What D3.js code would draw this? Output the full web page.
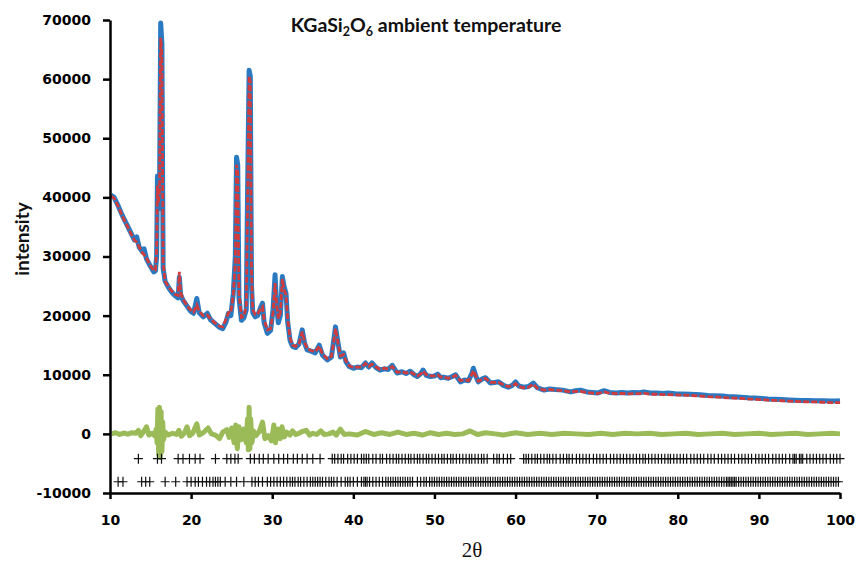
<!DOCTYPE html>
<html>
<head>
<meta charset="utf-8">
<script src="https://cdn.jsdelivr.net/npm/d3@7"></script>
<style>
  body { margin: 0; background: #fff; }
  svg { display: block; }
  .axis path, .axis line { stroke: #000; stroke-width: 2.5; }
  .axis text { font-family: "DejaVu Sans", sans-serif; font-weight: bold; font-size: 14px; fill: #000; }
</style>
</head>
<body>
<div id="chart"></div>
<script>
// 2theta positions with observed / calculated intensities
let tth = [10.1, 10.5, 11.0, 11.5, 12.0, 12.5, 13.0, 13.3, 13.6, 14.0, 14.2, 14.5, 15.0, 15.4, 15.6, 15.75, 15.85, 15.95, 16.1, 16.25, 16.4, 16.55, 16.8, 17.2, 17.6, 18.0, 18.4, 18.55, 18.7, 19.0, 19.5, 19.9, 20.3, 20.7, 21.0, 21.5, 22.0, 22.4, 23.0, 23.5, 23.9, 24.3, 24.6, 24.9, 25.2, 25.45, 25.6, 25.75, 25.9, 26.2, 26.5, 26.8, 26.95, 27.15, 27.3, 27.45, 27.6, 27.9, 28.2, 28.6, 28.8, 29.0, 29.4, 29.8, 30.1, 30.35, 30.55, 30.75, 31.0, 31.25, 31.45, 31.7, 31.9, 32.2, 32.5, 32.9, 33.3, 33.7, 34.0, 34.3, 34.8, 35.3, 35.8, 36.2, 36.8, 37.3, 37.6, 37.8, 38.1, 38.4, 38.8, 39.1, 39.5, 40.0, 40.5, 41.0, 41.5, 41.9, 42.3, 42.8, 43.3, 43.8, 44.3, 44.8, 45.4, 46.0, 46.5, 47.0, 47.5, 47.9, 48.3, 48.6, 49.0, 49.5, 50.0, 50.4, 50.8, 51.1, 51.7, 52.2, 52.6, 53.2, 53.7, 54.2, 54.6, 54.8, 55.1, 55.4, 55.9, 56.3, 56.9, 57.4, 57.9, 58.5, 59.1, 59.6, 60.0, 60.4, 61.0, 61.6, 62.2, 62.7, 63.5, 64.2, 64.9, 65.8, 66.8, 67.4, 68.0, 68.8, 69.5, 70.1, 70.9, 71.6, 72.4, 73.1, 73.8, 74.5, 75.3, 75.8, 76.6, 77.4, 78.2, 78.8, 79.7, 80.6, 81.5, 82.2, 82.8, 83.7, 84.6, 85.5, 86.3, 86.9, 87.8, 88.7, 89.5, 90.4, 91.1, 92.0, 92.8, 93.7, 94.5, 95.2, 96.1, 97.0, 97.9, 98.8, 99.5, 100.0];

let obs = [40400, 40000, 38600, 37000, 35600, 34200, 32800, 33300, 31600, 30800, 31300, 29600, 28300, 27400, 27600, 30000, 43600, 38000, 40000, 69500, 66000, 28000, 25800, 24800, 24000, 23400, 23000, 26500, 23600, 22600, 21600, 20800, 20400, 22900, 20500, 19800, 20400, 19300, 18600, 18000, 17800, 18900, 20400, 20000, 23800, 30000, 46800, 45500, 23000, 19200, 19600, 21000, 40000, 61500, 60500, 25000, 20500, 19800, 20000, 21500, 22100, 18800, 17000, 17500, 21000, 26900, 21500, 18800, 20000, 26600, 25000, 23800, 19000, 15800, 14800, 14600, 15200, 17600, 15300, 14200, 14000, 13700, 15000, 13300, 12500, 13000, 16000, 18100, 15500, 13000, 13700, 12200, 11400, 11100, 11300, 11200, 12000, 11300, 12000, 11200, 10800, 11000, 10900, 11600, 10300, 10500, 10200, 10600, 10000, 9700, 10200, 10800, 9900, 9700, 9800, 10100, 9500, 9600, 9400, 9700, 10000, 8800, 9100, 9000, 10200, 11100, 9800, 8800, 9300, 9500, 8600, 8700, 8800, 8200, 7900, 8200, 8800, 8100, 7900, 8000, 8600, 7800, 7400, 7600, 7500, 7400, 7100, 7300, 7400, 7100, 7000, 6900, 7300, 7000, 6900, 7000, 6900, 7000, 6950, 7100, 6900, 6900, 6850, 6900, 6800, 6750, 6700, 6650, 6600, 6500, 6450, 6400, 6300, 6300, 6200, 6100, 6050, 6000, 5900, 5850, 5800, 5750, 5700, 5650, 5650, 5600, 5600, 5550, 5550, 5600];

let calc = [40200, 39900, 38500, 36900, 35500, 34100, 32800, 32400, 31600, 30600, 30300, 29700, 28400, 27600, 27700, 31000, 42000, 39000, 41000, 67000, 64000, 29000, 25800, 24900, 24200, 23600, 23400, 27400, 24000, 22800, 21700, 21000, 20600, 21800, 20700, 20000, 20100, 19400, 18700, 18200, 18100, 19400, 20500, 20500, 23500, 29000, 45500, 44000, 24000, 19700, 19900, 21500, 38000, 60500, 59500, 27000, 21000, 20200, 20300, 21200, 21500, 19300, 17600, 17800, 20500, 25500, 22000, 19500, 20500, 26200, 24500, 23500, 19500, 16200, 15000, 14800, 15200, 17300, 15500, 14400, 14100, 13900, 14800, 13500, 12700, 13100, 15800, 17800, 15500, 13200, 13400, 12300, 11500, 11200, 11300, 11300, 11900, 11400, 11800, 11300, 10900, 11100, 11000, 11400, 10400, 10500, 10300, 10500, 10100, 9800, 10100, 10600, 10000, 9800, 9800, 10000, 9600, 9600, 9400, 9600, 9900, 9000, 9100, 9000, 10000, 10700, 9800, 8900, 9200, 9400, 8700, 8700, 8700, 8300, 8000, 8100, 8500, 8000, 7800, 7900, 8400, 7700, 7400, 7500, 7400, 7300, 7100, 7200, 7200, 7000, 6900, 6800, 7100, 6900, 6800, 6850, 6750, 6800, 6800, 6900, 6700, 6700, 6650, 6650, 6600, 6550, 6500, 6450, 6400, 6300, 6250, 6150, 6100, 6050, 6000, 5900, 5850, 5800, 5700, 5650, 5600, 5550, 5500, 5450, 5400, 5400, 5350, 5300, 5300, 5300];

// difference curve (obs - calc)
let diffX = [10.2, 10.7, 11.2, 11.7, 12.2, 12.7, 13.2, 13.5, 13.8, 14.2, 14.5, 14.8, 15.2, 15.5, 15.7, 15.8, 15.9, 16.0, 16.1, 16.2, 16.3, 16.4, 16.5, 16.6, 16.8, 17.2, 17.7, 18.2, 18.5, 18.8, 19.2, 19.5, 19.8, 20.2, 20.7, 21.0, 21.5, 22.1, 22.5, 23.0, 23.5, 23.9, 24.4, 24.7, 25.0, 25.3, 25.5, 25.7, 25.9, 26.2, 26.5, 26.8, 26.95, 27.05, 27.15, 27.25, 27.35, 27.5, 27.7, 28.0, 28.4, 28.8, 29.1, 29.5, 29.9, 30.2, 30.4, 30.7, 31.0, 31.2, 31.5, 31.8, 32.2, 32.5, 32.9, 33.3, 33.7, 34.2, 34.6, 35.0, 35.5, 36.0, 36.4, 37.0, 37.5, 37.9, 38.4, 38.9, 39.5, 40.5, 41.5, 42.5, 43.5, 44.5, 45.5, 46.5, 47.5, 48.5, 49.5, 50.5, 51.5, 52.5, 53.5, 54.4, 55.3, 56.3, 57.5, 58.5, 60.0, 61.5, 63.0, 64.5, 66.0, 67.5, 69.0, 70.5, 72.0, 73.5, 75.0, 76.5, 78.0, 79.5, 81.0, 82.5, 84.0, 85.5, 87.0, 88.5, 90.0, 91.5, 93.0, 94.5, 96.0, 97.5, 99.0, 100.0];
let diffY = [0, 200, -100, 150, -50, 200, 100, 600, -300, 500, 1200, -200, 100, -300, 800, -1500, 4200, -3500, 4500, -4000, 3800, -3000, 2000, -1000, 300, -200, 100, -100, 600, -400, 200, 1200, -300, 100, 1700, -200, 200, 1000, 0, -200, -800, 300, 700, -600, 1000, -1500, 1500, -2500, 1200, -1000, 800, -1500, 2500, -2700, 4500, -2500, 2500, -1500, 500, -300, 400, 2000, -800, -300, -1200, 1500, -1500, 800, -800, 1200, -500, 300, -200, 500, -100, 100, 400, 600, -200, 100, -100, 500, -100, 0, 300, -200, 800, -100, 0, -200, 400, -100, 200, -100, 300, -100, 100, -200, 200, -100, 100, -100, 0, 500, -100, 200, 0, -200, 200, -100, 100, -100, 100, 0, -100, 100, -100, 100, 0, 100, -100, 0, 100, -100, 0, 100, -100, 0, 100, -100, 0, 100, -100, 0, 100, 0];

// reflection positions, two phases
let refl1 = [13.5, 15.85, 16.35, 18.4, 19.0, 19.8, 20.5, 21.1, 23.0, 24.4, 24.9, 25.4, 25.8, 27.3, 27.8, 28.4, 28.9, 29.5, 30.2, 30.8, 31.4, 31.9, 32.6, 33.1, 33.7, 34.3, 35.0, 35.9, 37.4, 37.7, 38.1, 38.5, 38.8, 39.3, 39.7, 40.1, 40.5, 41.0, 41.3, 41.6, 41.9, 42.4, 42.8, 43.3, 43.6, 44.1, 44.5, 44.9, 45.3, 45.6, 46.0, 46.4, 46.8, 47.1, 47.5, 47.9, 48.2, 48.6, 49.0, 49.3, 49.7, 50.1, 50.5, 50.9, 51.2, 51.6, 52.0, 52.3, 52.7, 53.1, 53.5, 53.9, 54.3, 54.6, 55.0, 55.4, 55.8, 56.1, 56.5, 57.3, 57.7, 58.0, 58.5, 59.0, 59.4, 61.0, 61.3, 61.6, 62.0, 62.4, 62.7, 63.1, 63.5, 63.9, 64.2, 64.6, 65.0, 65.5, 65.9, 66.3, 66.6, 67.0, 67.5, 67.9, 68.3, 68.7, 69.1, 69.6, 70.0, 70.4, 70.8, 71.2, 71.7, 72.1, 72.5, 72.9, 73.3, 73.7, 74.1, 74.5, 74.9, 75.3, 75.7, 76.0, 76.4, 76.8, 77.2, 77.6, 78.0, 78.4, 78.8, 79.1, 79.5, 79.9, 80.3, 80.7, 81.1, 81.6, 82.0, 82.4, 82.8, 83.2, 83.7, 84.1, 84.5, 85.0, 85.4, 85.8, 86.2, 86.6, 87.0, 87.5, 87.9, 88.3, 88.7, 89.1, 89.6, 90.0, 90.4, 90.8, 91.2, 91.7, 92.1, 92.5, 92.9, 93.3, 93.8, 94.2, 94.4, 94.6, 95.0, 95.2, 95.4, 95.9, 96.3, 96.7, 97.1, 97.5, 97.9, 98.3, 98.8, 99.2, 99.6, 100.0];
let refl2 = [11.0, 11.6, 13.9, 14.4, 14.9, 16.8, 18.1, 19.5, 20.0, 20.5, 20.9, 21.4, 21.9, 22.3, 22.7, 23.0, 23.3, 23.6, 24.2, 24.9, 25.6, 26.5, 27.5, 27.9, 28.3, 28.8, 29.4, 29.8, 30.2, 30.6, 31.0, 31.4, 31.8, 32.2, 32.5, 32.8, 33.2, 33.5, 33.9, 34.3, 34.7, 35.0, 35.3, 35.6, 35.9, 36.2, 36.6, 37.0, 37.3, 37.6, 38.0, 38.5, 39.0, 39.3, 39.6, 40.0, 40.5, 41.0, 41.3, 41.5, 41.7, 42.0, 42.4, 42.8, 43.2, 43.6, 44.0, 44.3, 44.6, 44.9, 45.2, 45.5, 45.8, 46.1, 46.4, 46.7, 47.0, 47.3, 47.9, 48.3, 48.7, 49.0, 49.4, 49.7, 50.0, 50.3, 50.6, 50.9, 51.2, 51.5, 51.8, 52.1, 52.4, 52.7, 53.0, 53.3, 53.6, 53.9, 54.2, 54.5, 54.8, 55.1, 55.4, 55.7, 56.0, 56.3, 56.6, 56.9, 57.2, 57.5, 57.8, 58.1, 58.4, 58.7, 59.0, 59.3, 59.6, 59.9, 60.2, 60.5, 60.8, 61.1, 61.4, 61.7, 62.0, 62.3, 62.6, 62.9, 63.2, 63.5, 63.8, 64.1, 64.4, 64.7, 65.0, 65.3, 65.6, 65.9, 66.2, 66.5, 66.8, 67.1, 67.4, 67.7, 68.0, 68.3, 68.6, 68.9, 69.2, 69.5, 69.8, 70.1, 70.4, 70.7, 71.0, 71.3, 71.6, 71.9, 72.2, 72.5, 72.8, 73.1, 73.4, 73.7, 74.0, 74.3, 74.6, 74.9, 75.2, 75.5, 75.8, 76.1, 76.4, 76.7, 77.0, 77.3, 77.6, 77.9, 78.2, 78.5, 78.8, 79.1, 79.4, 79.7, 80.0, 80.3, 80.6, 80.9, 81.2, 81.5, 81.8, 82.1, 82.4, 82.7, 83.0, 83.3, 83.6, 83.9, 84.2, 84.5, 84.8, 85.1, 85.4, 85.7, 86.0, 86.2, 86.4, 86.6, 86.8, 87.0, 87.2, 87.5, 87.8, 88.1, 88.4, 88.7, 89.0, 89.3, 89.6, 89.9, 90.2, 90.5, 90.8, 91.1, 91.4, 91.7, 92.0, 92.3, 92.6, 92.9, 93.2, 93.5, 93.8, 94.1, 94.4, 94.7, 95.0, 95.3, 95.6, 95.9, 96.2, 96.5, 96.8, 97.1, 97.4, 97.7, 98.0, 98.3, 98.6, 98.9, 99.2, 99.5, 99.8];
let reflLevels = [-4200, -8100];

let xTicks = [10, 20, 30, 40, 50, 60, 70, 80, 90, 100];
let yTicks = [-10000, 0, 10000, 20000, 30000, 40000, 50000, 60000, 70000];

let width = 857, height = 562;
let margin = {top: 20, right: 17, bottom: 69, left: 110};

let svg = d3.select("#chart").append("svg")
  .attr("width", width)
  .attr("height", height);

let x = d3.scaleLinear().domain([10, 100]).range([margin.left, width - margin.right]);
let y = d3.scaleLinear().domain([-10000, 70000]).range([height - margin.bottom, margin.top]);

// difference curve
let diffLine = d3.line()
  .x(function(d, i) { return x(diffX[i]); })
  .y(function(d) { return y(d); });

svg.append("path")
  .datum(diffY)
  .attr("fill", "none")
  .attr("stroke", "#9bbb59")
  .attr("stroke-width", 5)
  .attr("stroke-linejoin", "round")
  .attr("d", diffLine);

// reflection markers as "+"
[refl1, refl2].forEach(function(list, k) {
  svg.append("g")
    .selectAll("path")
    .data(list).enter()
    .append("path")
    .attr("d", function(d) {
      let px = x(d), py = y(reflLevels[k]);
      return "M" + (px - 4.5) + "," + py + "h9M" + px + "," + (py - 5) + "v10";
    })
    .attr("stroke", "#111")
    .attr("stroke-width", 1.2)
    .attr("fill", "none");
});

let obsLine = d3.line()
  .x(function(d, i) { return x(tth[i]); })
  .y(function(d) { return y(d); });

svg.append("path")
  .datum(obs)
  .attr("fill", "none")
  .attr("stroke", "#2a7ac2")
  .attr("stroke-width", 5)
  .attr("stroke-linejoin", "round")
  .attr("d", obsLine);

svg.append("path")
  .datum(calc)
  .attr("fill", "none")
  .attr("stroke", "#d23b3b")
  .attr("stroke-width", 2.8)
  .attr("stroke-dasharray", "6,2")
  .attr("d", obsLine);

// axes, plain integer labels with a hyphen minus
let plain = function(d) { return String(d); };

svg.append("g")
  .attr("class", "axis")
  .attr("transform", "translate(0," + y(-10000) + ")")
  .call(d3.axisBottom(x).tickValues(xTicks).tickFormat(plain).tickSize(6).tickSizeOuter(0).tickPadding(16));

svg.append("g")
  .attr("class", "axis")
  .attr("transform", "translate(" + x(10) + ",0)")
  .call(d3.axisLeft(y).tickValues(yTicks).tickFormat(plain).tickSize(7).tickSizeOuter(0).tickPadding(12));

// title
let title = svg.append("text")
  .attr("x", 426)
  .attr("y", 32)
  .attr("text-anchor", "middle")
  .style("font-family", "Lato, sans-serif")
  .style("font-weight", "bold")
  .style("font-size", "19.5px")
  .attr("fill", "#111");
title.append("tspan").text("KGaSi");
title.append("tspan").attr("dy", 4).style("font-size", "12.5px").text("2");
title.append("tspan").attr("dy", -4).text("O");
title.append("tspan").attr("dy", 4).style("font-size", "12.5px").text("6");
title.append("tspan").attr("dy", -4).text(" ambient temperature");

svg.append("text")
  .attr("transform", "translate(29,239) rotate(-90)")
  .attr("text-anchor", "middle")
  .style("font-family", "Lato, sans-serif")
  .style("font-weight", "bold")
  .style("font-size", "19px")
  .attr("fill", "#111")
  .text("intensity");

svg.append("text")
  .attr("x", 472)
  .attr("y", 557)
  .attr("text-anchor", "middle")
  .style("font-family", "'Liberation Serif', serif")
  .style("font-size", "21px")
  .attr("fill", "#111")
  .text("2θ");
</script>
</body>
</html>
